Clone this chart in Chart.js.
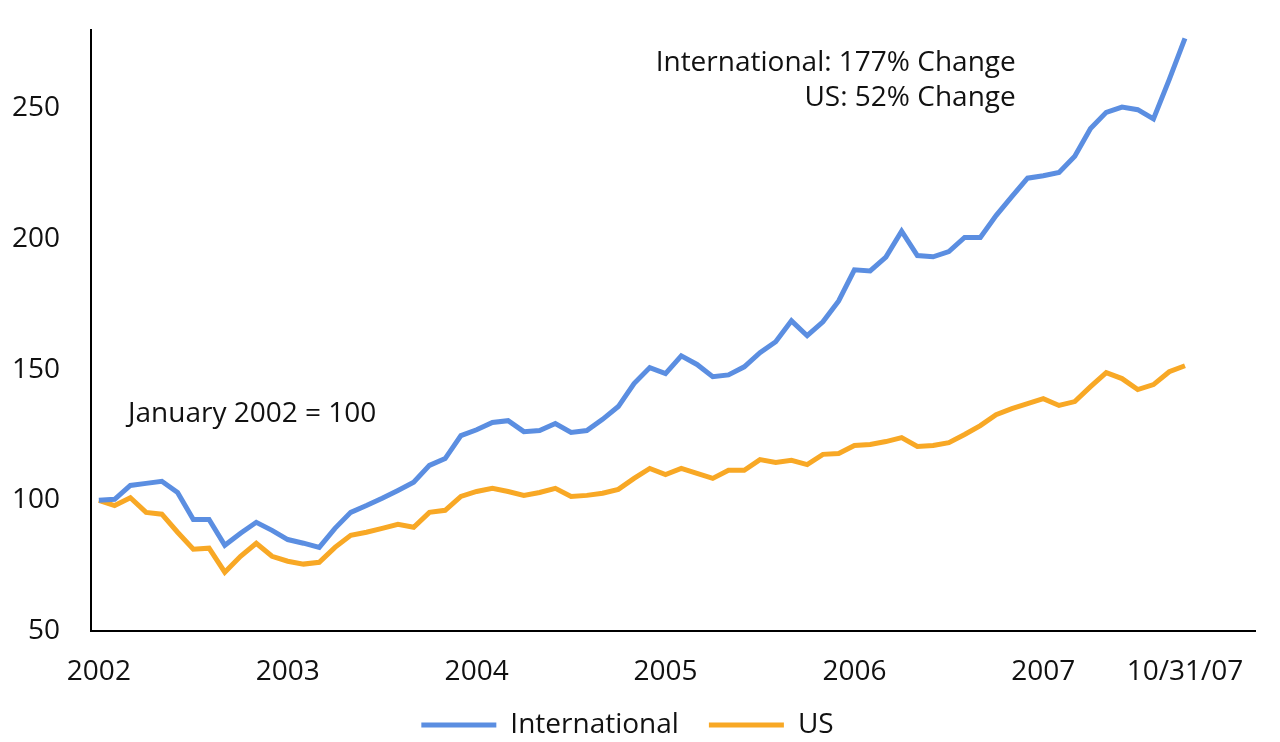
<!DOCTYPE html>
<html>
<head>
<meta charset="utf-8">
<script src="https://cdn.jsdelivr.net/npm/chart.js@4/dist/chart.umd.min.js"></script>
<style>
  html, body { margin: 0; padding: 0; background: #fff; }
  #wrap { width: 1280px; height: 742px; }
</style>
</head>
<body>
<div id="wrap"><canvas id="lineChart"></canvas></div>
<script>
    // =========================
    // Données (mensuel, janv. 2002 = 100)
    // =========================

    const international = [
      100, 100.4, 105.7, 106.5, 107.3, 103, 92.7, 92.7, 82.8, 87.4, 91.6, 88.5,
      85, 83.6, 82, 89.3, 95.4, 98, 100.8, 103.8, 106.9, 113.4, 116, 124.8,
      127, 129.8, 130.5, 126.3, 126.7, 129.4, 126, 126.7, 131, 135.9, 144.7, 150.8,
      148.5, 155.3, 152, 147.3, 148, 151.1, 156.5, 160.7, 168.7, 163, 168.3, 176.3,
      188.2, 187.8, 193.1, 203, 193.7, 193.2, 195.2, 200.6, 200.6, 209, 216.2, 223.3,
      224.2, 225.5, 231.7, 242.3, 248.5, 250.5, 249.5, 246, 261, 276.8
    ];

    const us = [
      100, 98, 101, 95.4, 94.7, 87.8, 81.3, 81.7, 72.5, 78.6, 83.6, 78.6,
      76.7, 75.6, 76.3, 82, 86.6, 87.8, 89.3, 90.8, 89.7, 95.4, 96.2, 101.5,
      103.4, 104.6, 103.4, 101.9, 103, 104.6, 101.5, 101.9, 102.7, 104.2, 108.4, 112.2,
      109.9, 112.2, 110.3, 108.4, 111.5, 111.5, 115.6, 114.5, 115.3, 113.7, 117.6, 117.9,
      121, 121.4, 122.5, 124, 120.6, 121, 122.1, 125.2, 128.6, 132.8, 135.1, 137,
      138.9, 136.3, 137.8, 143.5, 148.9, 146.6, 142.4, 144.3, 149.2, 151.5
    ];

    const xTickValues = [0, 12, 24, 36, 48, 60, 69];
    const xTickLabels = ['2002', '2003', '2004', '2005', '2006', '2007', '10/31/07'];
    const yTicks = [50, 100, 150, 200, 250];

    const seriesNames = ['International', 'US'];
    const seriesColors = ['#5b8ee1', '#f8a825'];

    const notes = [
      { text: 'January 2002 = 100', x: 1.85, y: 133.2, align: 'left' },
      { text: 'International: 177% Change', x: 58.25, y: 267.2, align: 'right' },
      { text: 'US: 52% Change', x: 58.25, y: 253.8, align: 'right' }
    ];

    const FONT = '"Open Sans", "DejaVu Sans", sans-serif';
    const FS = 28;

    // =========================
    // Graphique en ligne
    // =========================

    const toPoints = arr => arr.map((v, i) => ({ x: i, y: v }));

    const notesPlugin = {
      id: 'notes',
      afterDraw(chart) {
        const { ctx, scales } = chart;
        ctx.save();
        ctx.font = FS + 'px ' + FONT;
        ctx.fillStyle = '#111';
        ctx.textBaseline = 'middle';
        notes.forEach(n => {
          ctx.textAlign = n.align;
          ctx.fillText(n.text, scales.x.getPixelForValue(n.x), scales.y.getPixelForValue(n.y));
        });
        ctx.restore();
      }
    };

    new Chart(document.getElementById('lineChart'), {
      type: 'line',
      data: {
        datasets: [
          {
            label: seriesNames[0],
            data: toPoints(international),
            borderColor: seriesColors[0],
            backgroundColor: seriesColors[0],
            borderWidth: 5,
            pointRadius: 0,
            tension: 0
          },
          {
            label: seriesNames[1],
            data: toPoints(us),
            borderColor: seriesColors[1],
            backgroundColor: seriesColors[1],
            borderWidth: 5,
            pointRadius: 0,
            tension: 0
          }
        ]
      },
      options: {
        responsive: true,
        maintainAspectRatio: false,
        animation: false,
        layout: { padding: { top: 30, right: 25, left: 0, bottom: -7 } },
        plugins: {
          tooltip: { enabled: false },
          legend: {
            position: 'bottom',
            labels: {
              boxWidth: 75,
              boxHeight: 5,
              padding: 30,
              color: '#111',
              font: { family: FONT, size: FS },
              generateLabels: chart => chart.data.datasets.map((ds, i) => ({
                text: ds.label,
                fillStyle: ds.borderColor,
                strokeStyle: ds.borderColor,
                lineWidth: 0,
                fontColor: '#111',
                datasetIndex: i
              }))
            }
          }
        },
        scales: {
          x: {
            type: 'linear',
            min: -0.5,
            max: 73.45,
            grid: { display: false, drawTicks: false },
            border: { display: true, color: '#000', width: 2 },
            afterBuildTicks: s => { s.ticks = xTickValues.map(v => ({ value: v })); },
            afterFit: s => { s.height = 50; },
            ticks: {
              autoSkip: false,
              maxRotation: 0,
              padding: 24,
              color: '#111',
              font: { family: FONT, size: FS },
              callback: v => xTickLabels[xTickValues.indexOf(v)]
            }
          },
          y: {
            min: 50,
            max: 280,
            grid: { display: false, drawTicks: false },
            border: { display: true, color: '#000', width: 2 },
            afterBuildTicks: s => { s.ticks = yTicks.map(v => ({ value: v })); },
            afterFit: s => { s.width = 91; s.paddingTop = 0; s.paddingBottom = 0; },
            ticks: {
              padding: 31,
              color: '#111',
              font: { family: FONT, size: FS }
            }
          }
        }
      },
      plugins: [notesPlugin]
    });
</script>
</body>
</html>
